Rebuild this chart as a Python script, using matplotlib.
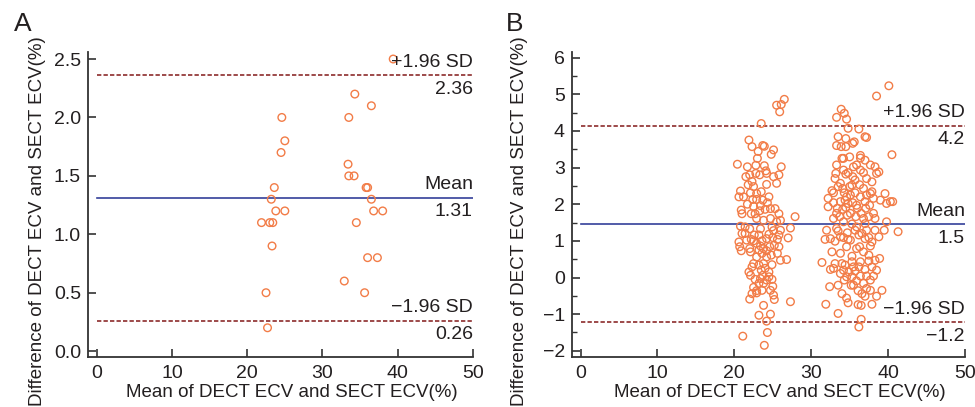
import matplotlib
matplotlib.use('Agg')
import matplotlib.pyplot as plt
from matplotlib.ticker import MultipleLocator

plt.rcParams['font.family'] = ['Liberation Sans', 'DejaVu Sans']

# Panel A data (mean, difference)
a_mean = [39.4, 34.3, 36.5, 24.6, 33.5, 25.0, 24.5, 33.4, 33.5, 34.2,
          23.6, 35.8, 36.0, 23.2, 36.5, 23.8, 25.0, 36.8, 38.0, 21.9,
          23.0, 23.4, 34.5, 23.3, 36.0, 37.3, 32.9, 22.5, 35.6, 22.7]
a_diff = [2.5, 2.2, 2.1, 2.0, 2.0, 1.8, 1.7, 1.6, 1.5, 1.5,
          1.4, 1.4, 1.4, 1.3, 1.3, 1.2, 1.2, 1.2, 1.2, 1.1,
          1.1, 1.1, 1.1, 0.9, 0.8, 0.8, 0.6, 0.5, 0.5, 0.2]
a_lines = [2.36, 1.31, 0.26]
a_labels = ['2.36', '1.31', '0.26']

# Panel B data, left cluster
b_mean_left = [25.5, 26.1, 26.5, 25.9, 23.5, 21.9, 22.3, 23.7, 23.9, 23.1,
               25.1, 24.8, 23.0, 20.4, 21.7, 22.8, 23.9, 24.1, 26.1, 25.1,
               25.8, 25.5, 24.2, 21.5, 22.0, 22.3, 21.8, 20.8, 20.6, 22.1,
               22.4, 22.9, 23.5, 24.5, 24.3, 24.7, 25.3, 25.8, 23.4, 22.5,
               23.3, 20.9, 21.0, 22.2, 22.9, 23.8, 22.7, 25.5, 27.9, 20.8,
               21.4, 22.0, 23.4, 25.1, 26.0, 27.3, 23.2, 24.2, 25.0, 25.6,
               27.0, 20.6, 21.6, 22.2, 22.5, 22.9, 23.4, 20.9, 22.0, 23.8,
               24.6, 25.2, 25.8, 23.6, 24.2, 24.8, 22.9, 26.0, 26.8, 22.5,
               23.2, 23.8, 24.9, 21.9, 22.1, 23.5, 23.7, 24.5, 24.5, 22.7,
               23.2, 23.8, 24.9, 25.0, 22.5, 22.9, 23.6, 22.9, 25.1, 25.2,
               22.0, 27.3, 23.8, 23.2, 24.7, 24.2, 24.3, 21.1, 23.9,
               21.4, 22.6, 23.6, 24.5, 24.9, 25.8, 21.7, 22.9, 24.0, 23.7,
               21.2, 22.5, 24.2, 23.3, 22.8, 22.1, 23.2, 24.2, 22.3, 24.0,
               23.4, 24.2, 24.7, 22.3, 25.6, 21.0, 20.7, 24.7, 26.0]
b_diff_left = [4.70, 4.72, 4.86, 4.52, 4.20, 3.75, 3.57, 3.60, 3.58, 3.44,
               3.48, 3.36, 3.25, 3.09, 3.02, 3.06, 3.05, 2.91, 3.02, 2.75,
               2.80, 2.57, 2.54, 2.75, 2.80, 2.62, 2.53, 2.36, 2.20, 2.31,
               2.13, 2.13, 2.34, 2.20, 2.04, 1.88, 1.88, 1.74, 1.96, 1.94,
               1.82, 1.84, 1.74, 1.74, 1.61, 1.56, 1.74, 1.52, 1.66, 1.40,
               1.38, 1.33, 1.33, 1.28, 1.29, 1.35, 1.16, 1.06, 1.09, 1.04,
               1.08, 0.97, 1.02, 1.04, 1.00, 0.93, 0.86, 0.73, 0.79, 0.79,
               0.84, 0.88, 0.84, 0.66, 0.56, 0.61, 0.56, 0.47, 0.49, 0.38,
               0.34, 0.38, 0.35, 0.15, 0.06, 0.20, 0.06, 0.15, 0.02, -0.05,
               -0.16, -0.16, -0.05, -0.24, -0.27, -0.36, -0.35, -0.42, -0.48, -0.60,
               -0.59, -0.66, -0.76, -1.03, -1.00, -1.19, -1.50, -1.60, -1.85,
               1.20, 1.16, 1.00, 1.18, 1.38, 1.16, 2.00, 2.29, 1.86, 2.11,
               2.20, 2.48, 2.84, 2.80, 2.84, 0.70, 0.75, 0.73, 0.29, 0.25,
               -0.03, -0.07, -0.35, -0.44, 0.66, 1.20, 0.84, 1.61, 1.56]

# Panel B data, right cluster
b_mean_right = [40.1, 38.5, 33.9, 33.3, 34.3, 34.6, 34.8, 36.2, 33.5, 34.5,
                35.6, 37.0, 37.2, 33.3, 33.9, 34.5, 34.0, 35.4, 36.4, 36.4,
                40.5, 33.3, 33.2, 33.1, 34.2, 34.8, 34.5, 35.5, 35.9, 36.4,
                36.8, 35.4, 35.7, 37.7, 38.3, 38.5, 38.8, 37.2, 33.8, 36.3,
                32.7, 32.9, 32.2, 34.1, 34.3, 35.0, 35.1, 35.7, 36.4, 37.7,
                37.9, 38.1, 39.6, 39.8, 40.3, 40.6, 32.9, 33.8, 34.4, 34.8,
                35.4, 37.0, 37.6, 32.2, 33.4, 34.1, 34.5, 36.0, 37.1, 33.7,
                32.9, 34.7, 35.8, 36.8, 38.1, 34.2, 35.3, 35.9, 37.0, 39.8,
                33.3, 33.5, 34.7, 37.2, 38.3, 39.5, 41.3, 31.8, 32.5, 33.1,
                34.2, 34.8, 35.1, 36.2, 37.0, 37.5, 37.7, 38.8, 35.9, 36.3,
                32.7, 35.3, 37.5, 35.3, 36.4, 37.5, 38.3, 38.9, 31.4, 33.1,
                34.0, 34.4, 32.5, 32.9, 34.2, 35.5, 36.2, 37.9, 35.7, 37.0,
                38.5, 34.6, 35.3, 36.4, 37.2, 38.1, 35.9, 36.8, 33.5, 35.2,
                32.4, 37.2, 36.1, 39.2, 34.0, 37.0, 38.5, 34.6, 34.8, 31.9,
                36.1, 36.5, 37.9, 33.5, 36.5, 36.2,
                32.0, 33.8, 35.7, 36.6, 37.9, 33.8, 34.9, 37.7, 34.3, 35.5,
                36.6, 37.7, 33.8, 36.8, 34.6, 33.5, 35.3, 36.8, 37.2, 34.6,
                35.9, 36.5, 35.1, 33.3, 38.3, 37.5, 34.2, 35.0, 37.0, 37.9,
                39.0]
b_diff_right = [5.23, 4.95, 4.59, 4.37, 4.48, 4.32, 4.07, 4.05, 3.84, 3.79,
                3.70, 3.84, 3.82, 3.60, 3.57, 3.57, 3.25, 3.66, 3.33, 3.26,
                3.35, 3.07, 2.84, 2.70, 2.93, 2.86, 2.82, 3.02, 3.07, 2.93,
                2.86, 2.75, 2.66, 3.07, 3.02, 2.84, 2.88, 2.70, 2.57, 2.53,
                2.37, 2.31, 2.16, 2.43, 2.31, 2.48, 2.25, 2.31, 2.20, 2.29,
                2.34, 2.16, 2.29, 2.02, 2.07, 2.07, 2.04, 2.07, 2.11, 2.02,
                2.04, 2.07, 1.97, 1.93, 1.89, 1.86, 1.91, 1.89, 1.89, 1.66,
                1.61, 1.70, 1.66, 1.61, 1.75, 1.52, 1.46, 1.38, 1.47, 1.52,
                1.34, 1.27, 1.22, 1.29, 1.29, 1.29, 1.25, 1.04, 1.06, 0.99,
                1.09, 1.04, 1.02, 1.16, 1.06, 1.09, 0.86, 1.11, 0.79, 0.84,
                0.70, 0.58, 0.61, 0.43, 0.43, 0.45, 0.47, 0.52, 0.41, 0.38,
                0.38, 0.34, 0.22, 0.25, 0.20, 0.29, 0.29, 0.29, 0.18, 0.22,
                0.20, 0.02, 0.02, 0.04, 0.04, 0.04, -0.09, -0.16, -0.21, -0.21,
                -0.25, -0.30, -0.36, -0.35, -0.44, -0.51, -0.51, -0.56, -0.69, -0.73,
                -0.74, -0.76, -0.73, -0.98, -1.14, -1.35,
                1.29, 1.11, 1.29, 1.20, 0.97, 0.11, 0.15, -0.07, -0.07, -0.21,
                -0.44, -0.35, 0.66, 0.70, 0.84, 2.48, 2.52, 2.43, 2.25, 2.20,
                1.97, 1.75, 1.75, 1.75, 1.61, 1.66, 3.25, 3.29, 3.20, 2.61,
                2.11]
b_lines = [4.13, 1.45, -1.22]
b_labels = ['4.2', '1.5', '\u22121.2']

ORANGE = '#F27C47'
DASH_RED = '#8C2B2B'
MEAN_BLUE = '#34409A'
TEXT = '#231F20'


def draw_panel(ax, xs, ys, lines, labels, ylim, ystep, yminor):
    ax.scatter(xs, ys, s=30, facecolors='none', edgecolors=ORANGE, linewidths=1.0, zorder=3)
    ax.plot([0, 50], [lines[0]] * 2, color=DASH_RED, lw=1.2, dashes=(2.6, 1.3))
    ax.plot([0, 50], [lines[1]] * 2, color=MEAN_BLUE, lw=1.2)
    ax.plot([0, 50], [lines[2]] * 2, color=DASH_RED, lw=1.2, dashes=(2.6, 1.3))

    tops = ['+1.96 SD', 'Mean', '\u22121.96 SD']
    for y, top, lab in zip(lines, tops, labels):
        ax.annotate(top, (50, y), xytext=(0, 9.5), textcoords='offset points',
                    ha='right', va='center', fontsize=14, color=TEXT)
        ax.annotate(lab, (50, y), xytext=(0, -10), textcoords='offset points',
                    ha='right', va='center', fontsize=14, color=TEXT)

    ax.set_xlim(-1.15, 50)
    ax.set_ylim(*ylim)
    ax.xaxis.set_major_locator(MultipleLocator(10))
    ax.yaxis.set_major_locator(MultipleLocator(ystep))
    if yminor:
        ax.yaxis.set_minor_locator(MultipleLocator(yminor))
    ax.tick_params(direction='in', length=6, width=1.2, labelsize=14, colors='#333333',
                   labelcolor=TEXT)
    ax.tick_params(axis='y', pad=5)
    ax.tick_params(axis='x', pad=6)
    ax.tick_params(which='minor', direction='in', length=3.5, width=1.0, colors='#333333')
    for side in ['top', 'right']:
        ax.spines[side].set_visible(False)
    for side in ['left', 'bottom']:
        ax.spines[side].set_linewidth(1.3)
        ax.spines[side].set_color('#333333')
    ax.set_xlabel('Mean of DECT ECV and SECT ECV(%)', fontsize=13.5, color=TEXT)
    ax.set_ylabel('Difference of DECT ECV and SECT ECV(%)', fontsize=13.5, color=TEXT)
    ax.xaxis.set_label_coords(0.53, -0.088)
    ax.yaxis.set_label_coords(-0.11, 0.445)


fig = plt.figure(figsize=(9.75, 4.07), dpi=100)
ax_a = fig.add_axes([0.0903, 0.1229, 0.3948, 0.7493])
ax_b = fig.add_axes([0.5864, 0.1236, 0.4033, 0.7494])

draw_panel(ax_a, a_mean, a_diff, a_lines, a_labels, (-0.05, 2.56), 0.5, None)
draw_panel(ax_b, b_mean_left + b_mean_right, b_diff_left + b_diff_right,
           b_lines, b_labels, (-2.16, 6.16), 1, 0.5)

fig.text(0.0236, 0.94, 'A', fontsize=19, color=TEXT, ha='center', va='center')
fig.text(0.528, 0.94, 'B', fontsize=19, color=TEXT, ha='center', va='center')

fig.savefig('out.png', dpi=100)
